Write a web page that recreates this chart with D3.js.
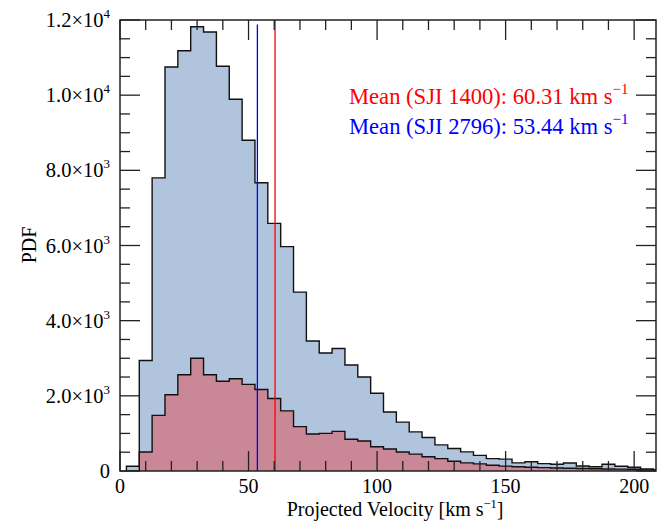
<!DOCTYPE html>
<html>
<head>
<meta charset="utf-8">
<script src="https://cdn.jsdelivr.net/npm/d3@7"></script>
<style>
  body { margin: 0; background: #fff; }
  text { font-family: "Liberation Serif", "Times New Roman", serif; }
</style>
</head>
<body>
<div id="chart"></div>
<script>
// bin centres (km/s), bin width 5
const binCenters = [5, 10, 15, 20, 25, 30, 35, 40, 45, 50, 55, 60, 65, 70, 75, 80, 85, 90, 95, 100,
                    105, 110, 115, 120, 125, 130, 135, 140, 145, 150, 155, 160, 165, 170, 175, 180,
                    185, 190, 195, 200, 205, 210];
const pdf2796 = [125, 2940, 7800, 10750, 11180, 11820, 11680, 10770, 9890, 8800, 7670, 6590, 5970, 4760,
                 3460, 3140, 3260, 2820, 2500, 2070, 1570, 1300, 1040, 890, 695, 600, 510, 415, 330,
                 315, 217, 247, 195, 178, 213, 133, 115, 178, 125, 98, 53, 30];
const pdf1400 = [0, 505, 1480, 2030, 2560, 3000, 2560, 2390, 2455, 2305, 2170, 1930, 1600, 1180,
                 985, 1000, 1055, 845, 800, 645, 585, 505, 450, 380, 330, 260, 215, 190, 155,
                 130, 112, 100, 90, 80, 75, 65, 60, 55, 50, 45, 30, 20];
const binWidth = 5;
const means = [
  {name: "SJI 1400", value: 60.31, top: 12000, color: "#ff0000"},
  {name: "SJI 2796", value: 53.44, top: 11880, color: "#0000ff"}
];
const yTicks = [0, 2000, 4000, 6000, 8000, 10000, 12000];
const yTickLabels = ["0", "2.0×10|3", "4.0×10|3", "6.0×10|3", "8.0×10|3", "1.0×10|4", "1.2×10|4"];
const xTicks = [0, 50, 100, 150, 200];

const W = 657, H = 521;
const margin = {top: 20, right: 1, bottom: 50, left: 120},
      width = W - margin.left - margin.right,
      height = H - margin.top - margin.bottom;

const svg = d3.select("#chart").append("svg")
  .attr("width", W).attr("height", H);
const g = svg.append("g").attr("transform", `translate(${margin.left},${margin.top})`);

const x = d3.scaleLinear().domain([0, 208.5]).range([0, width]);
const y = d3.scaleLinear().domain([0, 12000]).range([height, 0]);

g.append("clipPath").attr("id", "clip")
  .append("rect").attr("width", width).attr("height", height);

function steps(vals) {
  const pts = [];
  binCenters.forEach((c, i) => {
    pts.push([c - binWidth / 2, vals[i]]);
    pts.push([c + binWidth / 2, vals[i]]);
  });
  return pts;
}

const area = d3.area().x(d => x(d[0])).y0(y(0)).y1(d => y(d[1]));
const line = d3.line().x(d => x(d[0])).y(d => y(d[1]));

const plot = g.append("g").attr("clip-path", "url(#clip)");

[[pdf2796, "#b0c4de"], [pdf1400, "#c98797"]].forEach(([vals, fill]) => {
  const pts = steps(vals);
  plot.append("path").attr("d", area(pts)).attr("fill", fill);
  plot.append("path").attr("d", line([[pts[0][0], 0], ...pts, [pts[pts.length - 1][0], 0]]))
    .attr("fill", "none").attr("stroke", "#111").attr("stroke-width", 1.4);
});

plot.selectAll(".mean").data(means).enter().append("line")
  .attr("x1", d => x(d.value)).attr("x2", d => x(d.value))
  .attr("y1", y(0)).attr("y2", d => y(d.top))
  .attr("stroke", d => d.color).attr("stroke-width", 1.3);

// frame and ticks
const axisColor = "#222";
g.append("rect").attr("width", width).attr("height", height)
  .attr("fill", "none").attr("stroke", axisColor).attr("stroke-width", 1.5);

const xMinor = d3.range(0, 209, 10);
const yMinor = d3.range(0, 12001, 500);

function xTick(v, len) {
  g.append("line").attr("x1", x(v)).attr("x2", x(v)).attr("y1", height).attr("y2", height - len)
    .attr("stroke", axisColor).attr("stroke-width", 1.3);
  g.append("line").attr("x1", x(v)).attr("x2", x(v)).attr("y1", 0).attr("y2", len)
    .attr("stroke", axisColor).attr("stroke-width", 1.3);
}
function yTick(v, len) {
  g.append("line").attr("x1", 0).attr("x2", len).attr("y1", y(v)).attr("y2", y(v))
    .attr("stroke", axisColor).attr("stroke-width", 1.3);
  g.append("line").attr("x1", width).attr("x2", width - len).attr("y1", y(v)).attr("y2", y(v))
    .attr("stroke", axisColor).attr("stroke-width", 1.3);
}
xMinor.forEach(v => xTick(v, xTicks.includes(v) ? 20 : 10));
yMinor.forEach(v => yTick(v, yTicks.includes(v) ? 20 : 10));

g.selectAll(".xl").data(xTicks).enter().append("text")
  .attr("x", d => x(d)).attr("y", height + 22)
  .attr("text-anchor", "middle").attr("font-size", 20).text(d => d);

yTicks.forEach((v, i) => {
  const parts = yTickLabels[i].split("|");
  const t = g.append("text").attr("x", -10).attr("y", y(v) + 7)
    .attr("text-anchor", "end").attr("font-size", 20.5);
  t.append("tspan").text(parts[0]);
  if (parts[1]) t.append("tspan").attr("font-size", 13).attr("dy", -9).text(parts[1]);
});

// axis titles
const xt = svg.append("text").attr("x", margin.left + x(107)).attr("y", 516)
  .attr("text-anchor", "middle").attr("font-size", 20);
xt.append("tspan").text("Projected Velocity [km s");
xt.append("tspan").attr("font-size", 12.5).attr("dy", -8).text("−1");
xt.append("tspan").attr("dy", 8).text("]");

svg.append("text").attr("transform", "translate(36,245) rotate(-90)")
  .attr("text-anchor", "middle").attr("font-size", 20).text("PDF");

// legend
means.forEach((m, i) => {
  const t = svg.append("text").attr("x", 349).attr("y", 104 + i * 30)
    .attr("font-size", 22.6).attr("fill", m.color);
  t.append("tspan").text(`Mean (${m.name}): ${m.value.toFixed(2)} km s`);
  t.append("tspan").attr("font-size", 15).attr("dy", -10).text("−1");
});
</script>
</body>
</html>
